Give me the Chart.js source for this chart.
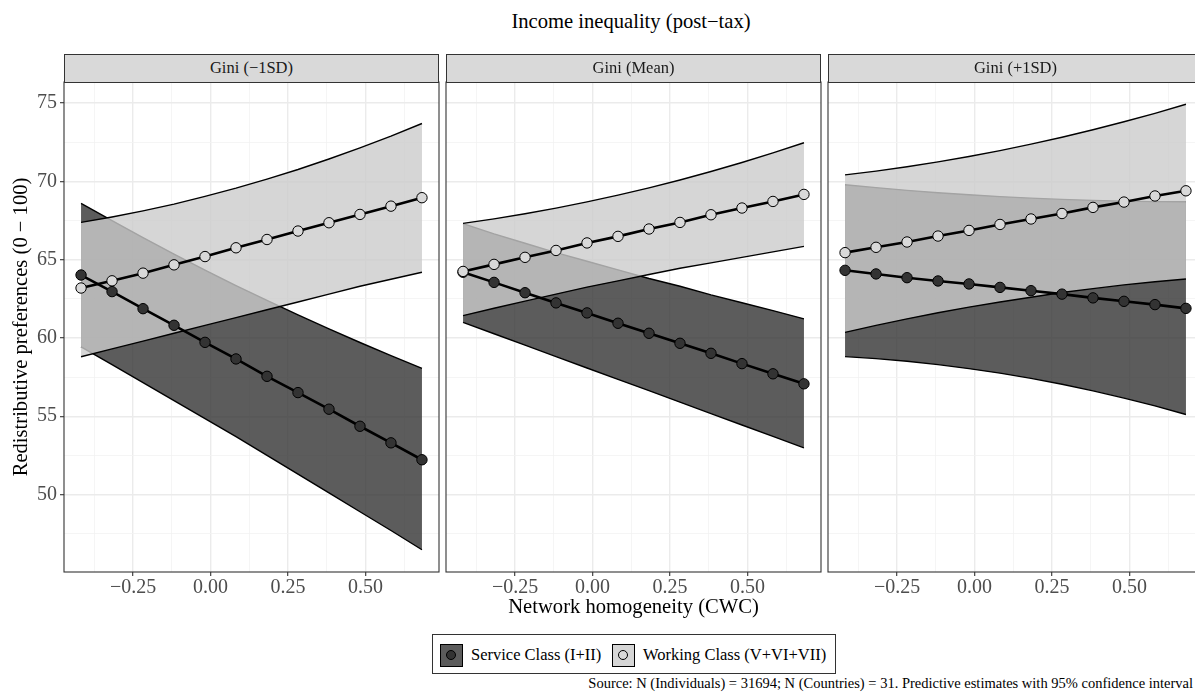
<!DOCTYPE html>
<html>
<head>
<meta charset="utf-8">
<script src="https://cdn.jsdelivr.net/npm/chart.js@4.4.1/dist/chart.umd.min.js"></script>
<style>
html,body{margin:0;padding:0;background:#ffffff;}
body{width:1195px;height:697px;position:relative;overflow:hidden;font-family:"Liberation Serif","Times New Roman",serif;}
canvas{position:absolute;}
.strip{position:absolute;top:54px;height:29px;box-sizing:border-box;background:#d9d9d9;border:1.1px solid #333333;font-size:16.5px;color:#1a1a1a;text-align:center;line-height:26px;white-space:nowrap;}
#title{position:absolute;top:9px;left:331px;width:600px;text-align:center;font-size:20.6px;line-height:24px;color:#000;}
#legend{position:absolute;left:432px;top:634px;width:404px;height:40px;box-sizing:border-box;border:1px solid #333333;background:#fff;}
.key{position:absolute;top:9px;width:23px;height:23px;box-sizing:border-box;border:1.5px solid #000;}
.dot{position:absolute;left:5px;top:5px;width:10px;height:10px;box-sizing:border-box;border:1px solid #000;border-radius:50%;}
.ltext{position:absolute;top:10px;font-size:16.5px;line-height:20px;color:#000;white-space:nowrap;}
#source{position:absolute;right:2px;top:675px;font-size:14.5px;line-height:17px;color:#000;white-space:nowrap;}
</style>
</head>
<body>
<div id="title"></div>
<canvas id="c0"></canvas>
<canvas id="c1"></canvas>
<canvas id="c2"></canvas>
<div class="strip" id="s0"></div>
<div class="strip" id="s1"></div>
<div class="strip" id="s2"></div>
<div id="legend">
  <div class="key" style="left:7px;background:#5c5c5c;"><div class="dot" style="background:#333333;"></div></div>
  <div class="ltext" id="l0" style="left:38px;"></div>
  <div class="key" style="left:179px;background:#d6d6d6;"><div class="dot" style="background:#d9d9d9;"></div></div>
  <div class="ltext" id="l1" style="left:210px;"></div>
</div>
<div id="source"></div>
<script>
// ---------- DATA ----------
const chartTitle = 'Income inequality (post\u2212tax)';
const xAxisTitle = 'Network homogeneity (CWC)';
const yAxisTitle = 'Redistributive preferences (0 \u2212 100)';
const sourceNote = 'Source: N (Individuals) = 31694; N (Countries) = 31. Predictive estimates with 95% confidence interval';
const panelTitles = ['Gini (\u22121SD)', 'Gini (Mean)', 'Gini (+1SD)'];
const seriesNames = ['Service Class (I+II)', 'Working Class (V+VI+VII)'];

const xValues = [-0.418, -0.318, -0.218, -0.118, -0.018, 0.082, 0.182, 0.282, 0.382, 0.482, 0.582, 0.682];

const xMajorTicks = [-0.25, 0, 0.25, 0.5];
const xTickLabels = ['\u22120.25', '0.00', '0.25', '0.50'];
const xMinorTicks = [-0.375, -0.125, 0.125, 0.375, 0.625];
const yMajorTicks = [50, 55, 60, 65, 70, 75];
const yTickLabels = ['50', '55', '60', '65', '70', '75'];
const yMinorTicks = [47.5, 52.5, 57.5, 62.5, 67.5, 72.5];

// Gini (-1SD)
const serviceFitLow   = [64.02, 62.96, 61.87, 60.81, 59.72, 58.66, 57.55, 56.51, 55.45, 54.36, 53.30, 52.22];
const serviceLowerLow = [59.43, 58.30, 57.15, 56.00, 54.85, 53.70, 52.50, 51.30, 50.10, 48.90, 47.70, 46.47];
const serviceUpperLow = [68.59, 67.49, 66.41, 65.36, 64.34, 63.35, 62.40, 61.47, 60.58, 59.71, 58.87, 58.06];
const workingFitLow   = [63.19, 63.65, 64.14, 64.67, 65.20, 65.76, 66.29, 66.83, 67.36, 67.89, 68.42, 68.96];
const workingLowerLow = [58.80, 59.30, 59.80, 60.30, 60.80, 61.30, 61.80, 62.30, 62.80, 63.30, 63.75, 64.20];
const workingUpperLow = [67.38, 67.73, 68.12, 68.55, 69.04, 69.57, 70.15, 70.76, 71.43, 72.14, 72.89, 73.70];

// Gini (Mean)
const serviceFitMean   = [64.20, 63.55, 62.89, 62.24, 61.60, 60.94, 60.30, 59.66, 59.02, 58.36, 57.71, 57.07];
const serviceLowerMean = [61.00, 60.27, 59.54, 58.81, 58.08, 57.35, 56.63, 55.90, 55.17, 54.44, 53.71, 52.98];
const serviceUpperMean = [67.30, 66.65, 66.05, 65.45, 64.90, 64.35, 63.80, 63.30, 62.75, 62.25, 61.75, 61.22];
const workingFitMean   = [64.25, 64.70, 65.15, 65.59, 66.07, 66.49, 66.96, 67.38, 67.87, 68.30, 68.72, 69.17];
const workingLowerMean = [61.43, 61.90, 62.35, 62.80, 63.25, 63.65, 64.05, 64.45, 64.80, 65.15, 65.50, 65.85];
const workingUpperMean = [67.32, 67.61, 67.93, 68.29, 68.69, 69.12, 69.59, 70.09, 70.63, 71.21, 71.82, 72.47];

// Gini (+1SD)
const serviceFitHigh   = [64.32, 64.09, 63.85, 63.64, 63.45, 63.23, 63.02, 62.80, 62.56, 62.34, 62.13, 61.89];
const serviceLowerHigh = [58.81, 58.68, 58.51, 58.30, 58.04, 57.75, 57.42, 57.04, 56.62, 56.16, 55.66, 55.11];
const serviceUpperHigh = [69.79, 69.60, 69.43, 69.28, 69.15, 69.03, 68.93, 68.85, 68.79, 68.74, 68.71, 68.70];
const workingFitHigh   = [65.45, 65.79, 66.13, 66.51, 66.87, 67.25, 67.60, 67.95, 68.34, 68.68, 69.07, 69.40];
const workingLowerHigh = [60.36, 60.80, 61.22, 61.61, 61.97, 62.30, 62.60, 62.90, 63.15, 63.39, 63.59, 63.77];
const workingUpperHigh = [70.42, 70.66, 70.94, 71.25, 71.59, 71.97, 72.38, 72.82, 73.30, 73.81, 74.35, 74.93];

// ---------- TEXT ----------
document.getElementById('title').textContent = chartTitle;
document.getElementById('source').textContent = sourceNote;
document.getElementById('l0').textContent = seriesNames[0];
document.getElementById('l1').textContent = seriesNames[1];

// ---------- STYLE ----------
const FONT = '"Liberation Serif", "Times New Roman", serif';
const S_FILL = 'rgba(51,51,51,0.8)';
const W_FILL = 'rgba(204,204,204,0.8)';
const X_MIN = -0.473, X_MAX = 0.737, Y_MIN = 45.05, Y_MAX = 76.35;
const PLOT_W = 375, PLOT_H = 490, PLOT_TOP = 82, X_AXIS_H = 50, PAD = 3;
const panelLefts = [64, 446, 828];

const xAll = xMajorTicks.concat(xMinorTicks).sort((a, b) => a - b);
const yAll = yMajorTicks.concat(yMinorTicks).sort((a, b) => a - b);

const panelBorder = {
  id: 'panelBorder',
  afterDatasetsDraw(chart) {
    const { ctx, chartArea: a } = chart;
    ctx.save();
    ctx.strokeStyle = '#333333';
    ctx.lineWidth = 1.1;
    ctx.strokeRect(a.left, a.top, a.right - a.left, a.bottom - a.top);
    ctx.restore();
  }
};

function pts(arr) { return xValues.map((x, i) => ({ x: x, y: arr[i] })); }

function gridOpts(majors, showTicks) {
  return {
    color: c => (c.tick && majors.indexOf(c.tick.value) >= 0) ? '#ebebeb' : '#f2f2f2',
    lineWidth: c => (c.tick && majors.indexOf(c.tick.value) >= 0) ? 1.4 : 0.8,
    tickColor: c => (c.tick && majors.indexOf(c.tick.value) >= 0) ? '#333333' : 'rgba(0,0,0,0)',
    tickWidth: 1.1,
    tickLength: 4,
    drawTicks: showTicks,
    drawOnChartArea: true
  };
}

function makePanel(idx, d) {
  const first = idx === 0;
  const canvas = document.getElementById('c' + idx);
  const leftSpace = first ? panelLefts[0] : PAD;
  const cw = leftSpace + PLOT_W + PAD;
  const ch = PAD + PLOT_H + X_AXIS_H;
  canvas.width = cw; canvas.height = ch;
  canvas.style.width = cw + 'px'; canvas.style.height = ch + 'px';
  canvas.style.left = (first ? 0 : panelLefts[idx] - PAD) + 'px';
  canvas.style.top = (PLOT_TOP - PAD) + 'px';

  const strip = document.getElementById('s' + idx);
  strip.style.left = panelLefts[idx] + 'px';
  strip.style.width = PLOT_W + 'px';
  strip.textContent = panelTitles[idx];

  const datasets = [
    { label: seriesNames[1], data: pts(d.wFit), borderColor: '#000', borderWidth: 2.6, pointRadius: 5.2,
      pointBackgroundColor: '#d9d9d9', pointBorderColor: '#000', pointBorderWidth: 1, fill: false, order: 1 },
    { label: seriesNames[0], data: pts(d.sFit), borderColor: '#000', borderWidth: 2.6, pointRadius: 5.2,
      pointBackgroundColor: '#333333', pointBorderColor: '#000', pointBorderWidth: 1, fill: false, order: 2 },
    { label: 'wLo', data: pts(d.wLo), borderColor: '#000', borderWidth: 1.4, pointRadius: 0, fill: false, order: 3 },
    { label: 'wHi', data: pts(d.wHi), borderColor: '#000', borderWidth: 1.4, pointRadius: 0,
      fill: { target: 2, above: W_FILL, below: W_FILL }, backgroundColor: W_FILL, order: 3 },
    { label: 'sLo', data: pts(d.sLo), borderColor: '#000', borderWidth: 1.4, pointRadius: 0, fill: false, order: 4 },
    { label: 'sHi', data: pts(d.sHi), borderColor: '#000', borderWidth: 1.4, pointRadius: 0,
      fill: { target: 4, above: S_FILL, below: S_FILL }, backgroundColor: S_FILL, order: 4 }
  ];

  return new Chart(canvas, {
    type: 'line',
    data: { datasets: datasets },
    options: {
      responsive: false,
      animation: false,
      devicePixelRatio: 1,
      layout: { autoPadding: false, padding: { top: PAD, right: PAD, bottom: 0, left: first ? 0 : PAD } },
      elements: { line: { tension: 0 } },
      plugins: { legend: { display: false }, tooltip: { enabled: false }, title: { display: false } },
      scales: {
        x: {
          type: 'linear', min: X_MIN, max: X_MAX,
          afterBuildTicks: s => { s.ticks = xAll.map(v => ({ value: v })); },
          afterFit: s => { s.height = X_AXIS_H; s.paddingLeft = 0; s.paddingRight = 0; },
          ticks: {
            autoSkip: false, maxRotation: 0, minRotation: 0, padding: 0, color: '#4d4d4d',
            font: { family: FONT, size: 20 },
            callback: v => { const k = xMajorTicks.indexOf(v); return k >= 0 ? xTickLabels[k] : ''; }
          },
          grid: gridOpts(xMajorTicks, true),
          border: { display: false },
          title: {
            display: idx === 1, text: xAxisTitle, color: '#000',
            font: { family: FONT, size: 20.6 }, padding: { top: 0, bottom: 2 }
          }
        },
        y: {
          type: 'linear', min: Y_MIN, max: Y_MAX,
          afterBuildTicks: s => { s.ticks = yAll.map(v => ({ value: v })); },
          afterFit: s => { s.width = first ? panelLefts[0] : 0; s.paddingTop = 0; s.paddingBottom = 0; },
          ticks: {
            display: first, autoSkip: false, padding: 3, color: '#4d4d4d',
            font: { family: FONT, size: 20 },
            callback: v => { const k = yMajorTicks.indexOf(v); return k >= 0 ? yTickLabels[k] : ''; }
          },
          grid: gridOpts(yMajorTicks, first),
          border: { display: false },
          title: {
            display: first, text: yAxisTitle, color: '#000',
            font: { family: FONT, size: 20.6 }, padding: { top: 9, bottom: 0 }
          }
        }
      }
    },
    plugins: [panelBorder]
  });
}

makePanel(0, { sFit: serviceFitLow, sLo: serviceLowerLow, sHi: serviceUpperLow,
               wFit: workingFitLow, wLo: workingLowerLow, wHi: workingUpperLow });
makePanel(1, { sFit: serviceFitMean, sLo: serviceLowerMean, sHi: serviceUpperMean,
               wFit: workingFitMean, wLo: workingLowerMean, wHi: workingUpperMean });
makePanel(2, { sFit: serviceFitHigh, sLo: serviceLowerHigh, sHi: serviceUpperHigh,
               wFit: workingFitHigh, wLo: workingLowerHigh, wHi: workingUpperHigh });
</script>
</body>
</html>
